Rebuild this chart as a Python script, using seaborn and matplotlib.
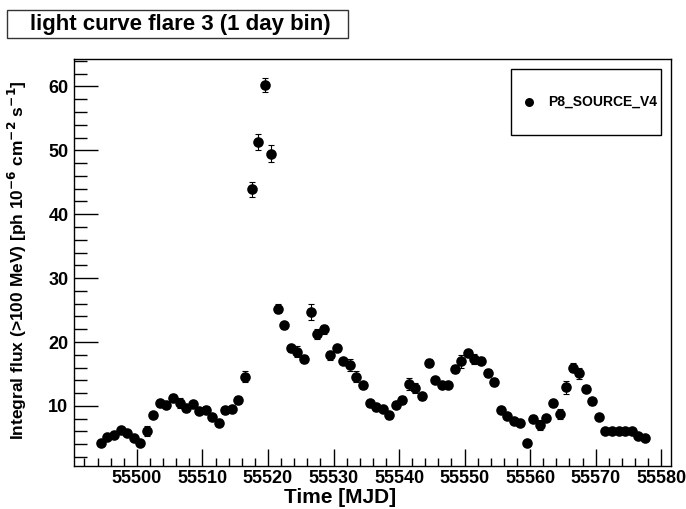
import numpy as np
import pandas as pd
import seaborn as sns
import matplotlib.pyplot as plt
from matplotlib.patches import Rectangle
from matplotlib.ticker import MultipleLocator

# daily bins, MJD bin centres
mjd_start = 55494.5
flux = [4.15, 5.1, 5.45, 6.2, 5.7, 4.9, 4.15, 6.1, 8.6, 10.4,
        10.2, 11.2, 10.4, 9.6, 10.3, 9.2, 9.4, 8.3, 7.4, 9.3,
        9.5, 10.9, 14.6, 43.9, 51.3, 60.3, 49.5, 25.2, 22.6, 19.0,
        18.5, 17.3, 24.7, 21.2, 22.0, 17.9, 19.0, 17.0, 16.4, 14.6,
        13.2, 10.4, 9.8, 9.5, 8.5, 10.2, 10.9, 13.4, 12.8, 11.5,
        16.7, 14.1, 13.3, 13.3, 15.8, 17.0, 18.3, 17.4, 17.1, 15.1,
        13.7, 9.4, 8.4, 7.6, 7.3, 4.25, 8.0, 7.0, 8.1, 10.4,
        8.7, 12.9, 16.0, 15.1, 12.7, 10.7, 8.3, 6.1, 6.1, 6.1,
        6.0, 6.1, 5.35, 4.9]
flux_err = [0.4, 0.4, 0.4, 0.5, 0.4, 0.4, 0.4, 0.8, 0.5, 0.5,
            0.5, 0.6, 0.8, 0.5, 0.5, 0.5, 0.6, 0.5, 0.5, 0.5,
            0.5, 0.6, 0.8, 1.2, 1.3, 1.1, 1.3, 0.7, 0.6, 0.6,
            0.8, 0.6, 1.2, 0.8, 0.7, 0.7, 0.6, 0.5, 1.0, 0.8,
            0.6, 0.6, 0.6, 0.5, 0.6, 0.6, 0.6, 0.9, 0.8, 0.5,
            0.6, 0.5, 0.5, 0.5, 0.6, 1.0, 0.5, 0.8, 0.6, 0.6,
            0.6, 0.5, 0.5, 0.5, 0.5, 0.4, 0.5, 0.8, 0.5, 0.6,
            0.8, 1.0, 0.7, 0.9, 0.6, 0.5, 0.5, 0.4, 0.4, 0.4,
            0.4, 0.4, 0.4, 0.4]
mjd = mjd_start + np.arange(len(flux))
series_name = 'P8_SOURCE_V4'

df = pd.DataFrame({'mjd': mjd, 'flux': flux, 'err': flux_err})

sns.set_style('white', {'xtick.bottom': True, 'ytick.left': True,
                        'text.color': 'black', 'axes.labelcolor': 'black',
                        'xtick.color': 'black', 'ytick.color': 'black'})
plt.rcParams['font.family'] = ['Liberation Sans', 'DejaVu Sans']
plt.rcParams['font.weight'] = 'bold'
plt.rcParams['mathtext.default'] = 'bf'

fig = plt.figure(figsize=(6.86, 5.09), dpi=100)
ax = fig.add_axes([74 / 686, 1 - 465.5 / 509, 597 / 686, 406.5 / 509])

ax.errorbar(df['mjd'], df['flux'], yerr=df['err'], fmt='none',
            ecolor='black', elinewidth=0.8, capsize=2, capthick=0.8, zorder=2)
sns.scatterplot(data=df, x='mjd', y='flux', ax=ax, color='black', s=58,
                edgecolor='black', linewidth=0, label=series_name, zorder=3)

ax.set_xlim(55490.4, 55581.5)
ax.set_ylim(0.67, 64.3)
ax.xaxis.set_major_locator(MultipleLocator(10))
ax.xaxis.set_minor_locator(MultipleLocator(2))
ax.yaxis.set_major_locator(MultipleLocator(10))
ax.yaxis.set_minor_locator(MultipleLocator(2))
ax.tick_params(axis='x', which='major', direction='in', length=12, width=1,
               labelsize=13, pad=3, bottom=True, top=False)
ax.tick_params(axis='x', which='minor', direction='in', length=6, width=1,
               bottom=True, top=False)
ax.tick_params(axis='y', which='major', direction='in', length=17, width=1,
               labelsize=13, pad=4, left=True, right=False)
ax.tick_params(axis='y', which='minor', direction='in', length=9, width=1,
               left=True, right=False)
for lab in ax.get_xticklabels() + ax.get_yticklabels():
    lab.set_fontweight('bold')
ax.ticklabel_format(useOffset=False, style='plain', axis='x')
for side in ax.spines.values():
    side.set_color('black')
    side.set_linewidth(1)

ax.set_xlabel('Time [MJD]', fontsize=15, fontweight='bold')
ax.xaxis.set_label_coords(0.445, -0.055)
ax.set_ylabel('Integral flux (>100 MeV) [ph 10$^{-6}$ cm$^{-2}$ s$^{-1}$]',
              fontsize=12.5, fontweight='bold')
ax.yaxis.set_label_coords(-0.076, 0.505)

# legend box
ax.add_patch(Rectangle((0.732, 0.813), 0.251, 0.162, transform=ax.transAxes,
                       facecolor='white', edgecolor='black', linewidth=1, zorder=5))
leg = ax.legend(loc='center left', bbox_to_anchor=(0.718, 0.894), frameon=False,
                fontsize=10, handletextpad=0.4, markerscale=0.85)
leg.set_zorder(6)

# title box
fig.add_artist(Rectangle((7 / 686, 1 - 38 / 509), 341 / 686, 28 / 509,
                         transform=fig.transFigure, facecolor='white',
                         edgecolor='#333333', linewidth=1))
fig.text(180 / 686, 1 - 24.5 / 509, 'light curve flare 3 (1 day bin)',
         ha='center', va='center', fontsize=16, fontweight='bold')

fig.savefig('out.png', dpi=100)
